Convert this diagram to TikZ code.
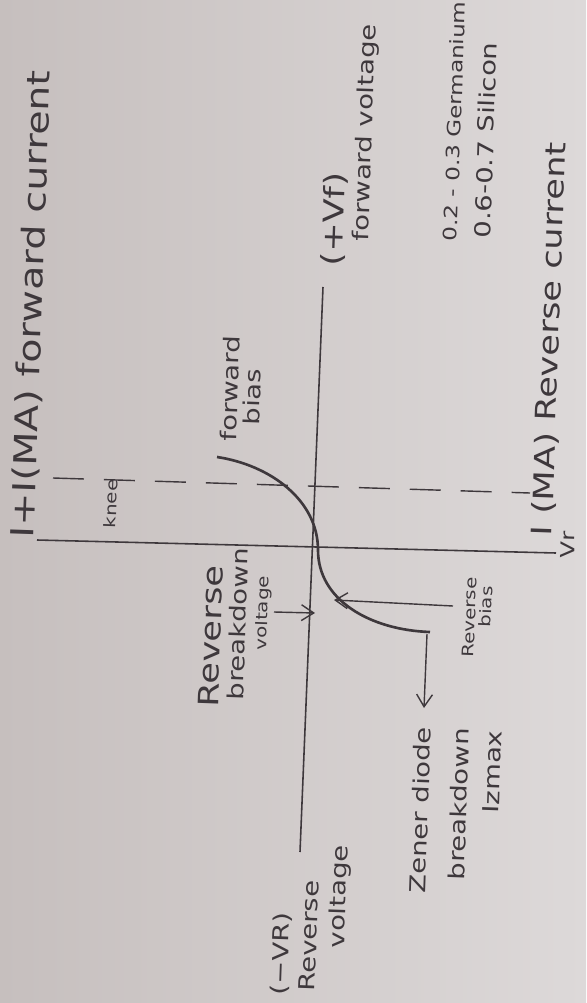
\documentclass[tikz,border=0pt]{standalone}
\usepackage{fontspec}
\usetikzlibrary{arrows.meta}
\newfontfamily\handfont{DejaVu Sans}[FakeStretch=1.25]
\definecolor{paperL}{RGB}{198,191,190}
\definecolor{paperR}{RGB}{221,217,217}
\definecolor{ink}{RGB}{62,56,60}
\tikzset{
  hand/.style={text=ink, rotate=88, anchor=west, inner sep=1pt, font=\handfont\fontsize{12.5}{14}\selectfont},
  handbig/.style={hand, font=\handfont\fontsize{16}{18}\selectfont},
  handsmall/.style={hand, font=\handfont\fontsize{9}{11}\selectfont},
  axis/.style={draw=ink, line width=0.9pt},
  pointer/.style={draw=ink, line width=0.8pt, -{Straight Barb[length=7pt,width=9pt]}}
}
\begin{document}
\begin{tikzpicture}[x=0.02cm, y=-0.02cm]
        \shade[left color=paperL, right color=paperR] (0,0) rectangle (586,1003);
        \useasboundingbox (0,0) rectangle (586,1003);
        \coordinate (vtop) at (323,287);
        \coordinate (vbot) at (300,852);
        \coordinate (ileft) at (37,540);
        \coordinate (iright) at (556,553);
        \coordinate (o) at (318,550);
        \coordinate (fstart) at (217,457);
        \coordinate (rend) at (430,632);
        \coordinate (kl) at (53,478);
        \coordinate (kr) at (530,493);
        \coordinate (rbtail) at (453,606);
        \coordinate (rbtip) at (334,600);
        \coordinate (bvtail) at (274,612);
        \coordinate (bvtip) at (315,613);
        \coordinate (zdtail) at (427,634);
        \coordinate (zdtip) at (424,708);
        \draw[axis] (vtop) -- (vbot);
        \draw[axis] (ileft) -- (iright);
        \draw[ink, line width=0.8pt, dash pattern=on 0.62cm off 0.4cm] (kl) -- (kr);
        \draw[ink, line width=1.5pt] (fstart) .. controls (270,465) and (318,500) .. (o)
                .. controls (318,600) and (370,630) .. (rend);
        \draw[pointer] (rbtail) -- (rbtip);
        \draw[pointer] (bvtail) -- (bvtip);
        \draw[pointer] (zdtail) -- (zdtip);
        \node[hand, font=\handfont\fontsize{18}{20}\selectfont] (curF) at (24,540) {I+I(MA) forward current};
        \node[handbig] (curR) at (543,538) {I (MA) Reverse current};
        \node[hand, font=\handfont\fontsize{11}{13}\selectfont] (vr) at (567,560) {Vr};
        \node[handbig] (vF1) at (333,268) {(+Vf)};
        \node[hand] (vF2) at (362,243) {forward voltage};
        \node[hand, font=\handfont\fontsize{10.5}{12}\selectfont] (ge) at (450,243) {0.2 - 0.3 Germanium};
        \node[hand] (si) at (482,240) {0.6-0.7 Silicon};
        \node[hand] (fb1) at (228,443) {forward};
        \node[hand] (fb2) at (251,427) {bias};
        \node[handsmall] (knee) at (110,530) {knee};
        \node[handbig] (rbv1) at (208,709) {Reverse};
        \node[hand] (rbv2) at (235,702) {breakdown};
        \node[handsmall] (rbv3) at (262,652) {voltage};
        \node[handsmall] (rb1) at (468,659) {Reverse};
        \node[handsmall] (rb2) at (485,629) {bias};
        \node[hand] (zd1) at (417,895) {Zener diode};
        \node[hand] (zd2) at (456,882) {breakdown};
        \node[hand] (zd3) at (491,815) {Izmax};
        \node[hand] (vR1) at (280,997) {(−VR)};
        \node[hand] (vR2) at (307,993) {Reverse};
        \node[hand] (vR3) at (338,950) {voltage};
\end{tikzpicture}
\end{document}
